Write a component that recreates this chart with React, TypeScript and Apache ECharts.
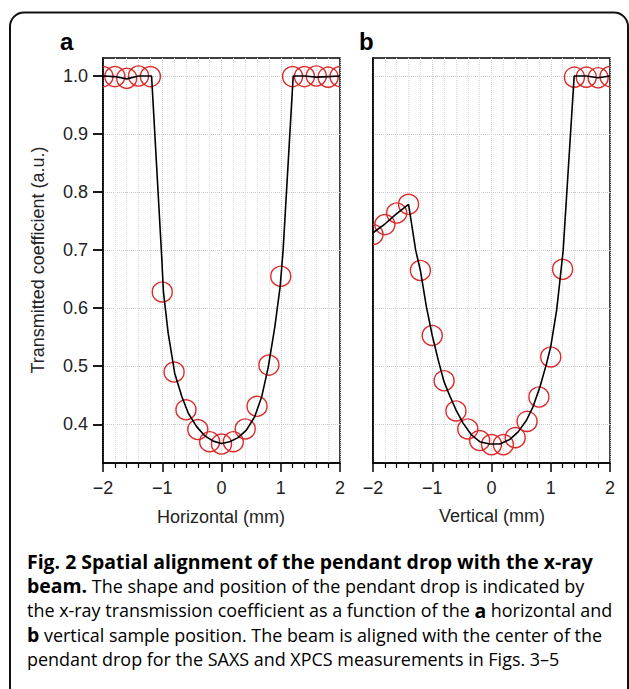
import React, { useEffect, useRef } from "react";
import * as echarts from "echarts";

// ---- data ----
const samplePos = [-2.0, -1.8, -1.6, -1.4, -1.2, -1.0, -0.8, -0.6, -0.4, -0.2, 0.0, 0.2, 0.4, 0.6, 0.8, 1.0, 1.2, 1.4, 1.6, 1.8, 2.0];
const horizontalT = [0.999, 0.999, 0.996, 1.0, 0.999, 0.628, 0.49, 0.425, 0.391, 0.37, 0.366, 0.37, 0.392, 0.431, 0.502, 0.655, 0.999, 0.999, 1.0, 0.998, 0.999];
const verticalT = [0.727, 0.744, 0.764, 0.779, 0.665, 0.553, 0.475, 0.423, 0.392, 0.372, 0.365, 0.365, 0.377, 0.405, 0.447, 0.516, 0.667, 0.998, 0.998, 0.997, 0.999];

const horizontalFitX = [-2.0, -1.8, -1.6, -1.4, -1.18, -1.01, -0.98, -0.9, -0.79, -0.67, -0.56, -0.42, -0.28, -0.14, 0.0, 0.14, 0.28, 0.42, 0.56, 0.68, 0.79, 0.9, 0.99, 1.04, 1.21, 1.4, 1.6, 1.8, 2.0];
const horizontalFitY = [1.0, 0.999, 0.995, 1.0, 1.0, 0.69, 0.628, 0.557, 0.488, 0.448, 0.419, 0.396, 0.38, 0.371, 0.367, 0.37, 0.377, 0.39, 0.413, 0.448, 0.499, 0.568, 0.637, 0.7, 1.0, 1.0, 0.998, 0.999, 1.0];

const verticalFitX = [-2.0, -1.8, -1.6, -1.4, -1.28, -1.2, -1.1, -1.0, -0.9, -0.8, -0.7, -0.6, -0.48, -0.34, -0.2, -0.03, 0.14, 0.31, 0.45, 0.59, 0.7, 0.82, 0.93, 1.0, 1.1, 1.15, 1.21, 1.395, 1.6, 1.8, 2.0];
const verticalFitY = [0.73, 0.745, 0.763, 0.779, 0.7, 0.665, 0.603, 0.553, 0.511, 0.473, 0.448, 0.425, 0.402, 0.382, 0.37, 0.366, 0.366, 0.374, 0.387, 0.407, 0.43, 0.465, 0.505, 0.534, 0.597, 0.643, 0.7, 1.0, 1.0, 0.997, 1.0];

const yTickValues = [0.4, 0.5, 0.6, 0.7, 0.8, 0.9, 1.0];
const yMin = 1 / 3;
const yMax = 1.031;
const xMin = -2;
const xMax = 2;

const panelLabels = ["a", "b"];
const xTitles = ["Horizontal (mm)", "Vertical (mm)"];
const yTitle = "Transmitted coefficient (a.u.)";

const captionLines = [
  "{h|Fig. 2 Spatial alignment of the pendant drop with the x-ray}",
  "{h|beam.}{n| The shape and position of the pendant drop is indicated by}",
  "{n|the x-ray transmission coefficient as a function of the }{h|a}{n| horizontal and}",
  "{h|b}{n| vertical sample position. The beam is aligned with the center of the}",
  "{n|pendant drop for the SAXS and XPCS measurements in Figs. }{l|3–5}",
];
const captionMeasureLine = "the x-ray transmission coefficient as a function of the a horizontal and";
const captionMeasureBold = "Fig. 2 Spatial alignment of the pendant drop with the x-ray";

const AXIS_FONT = "'Liberation Sans', Arial, Helvetica, sans-serif";
const CAP_FONT = "'Open Sans', 'Noto Sans', sans-serif";
const RED = "#dc2a2a";

function fmtX(v: number) {
  return v < 0 ? "\u2212" + Math.abs(v) : String(v);
}

export default function App() {
  const ref = useRef<HTMLDivElement>(null);

  useEffect(() => {
    if (!ref.current) return;
    const chart = echarts.init(ref.current, undefined, { renderer: "svg" });

    // fit caption font sizes to the measured widths of reference lines
    let capSize = 15.5;
    let boldSize = 16;
    try {
      const c = document.createElement("canvas").getContext("2d");
      if (c) {
        c.font = "100px " + CAP_FONT;
        const w = c.measureText(captionMeasureLine).width;
        if (w > 0) capSize = (100 * 584) / w;
        c.font = "bold 100px " + CAP_FONT;
        const wb = c.measureText(captionMeasureBold).width;
        if (wb > 0) boldSize = (100 * 566) / wb;
      }
    } catch (e) {}

    const grids = [
      { left: 103, top: 58, width: 237, height: 405 },
      { left: 373, top: 58, width: 237, height: 405 },
    ];

    const xAxisBase = (i: number) => ({
      gridIndex: i,
      type: "value",
      min: xMin,
      max: xMax,
      interval: 1,
      axisLine: { show: true, onZero: false, lineStyle: { color: "#000", width: 1.5 } },
      axisTick: { show: true, inside: false, length: 9, lineStyle: { color: "#000", width: 1.5 } },
      minorTick: { show: true, splitNumber: 5, length: 5, lineStyle: { color: "#000", width: 1.2 } },
      axisLabel: { show: true, margin: 16, fontSize: 18, color: "#222", fontFamily: AXIS_FONT, formatter: fmtX },
      splitLine: { show: true, lineStyle: { color: "#cfcfcf", type: "dotted", width: 1 } },
      minorSplitLine: { show: true, lineStyle: { color: "#dadada", type: "dotted", width: 1 } },
    });

    const yAxisBase = (i: number) => ({
      gridIndex: i,
      type: "value",
      min: yMin,
      max: yMax,
      axisLine: { show: true, onZero: false, lineStyle: { color: "#000", width: 1.5 } },
      axisTick: {
        show: i === 0,
        inside: false,
        length: 10,
        customValues: yTickValues,
        lineStyle: { color: "#000", width: 1.8 },
      },
      axisLabel: {
        show: i === 0,
        customValues: yTickValues,
        margin: 15,
        fontSize: 18,
        color: "#222",
        fontFamily: AXIS_FONT,
        formatter: (v: number) => v.toFixed(1),
      },
      splitLine: { show: true, lineStyle: { color: "#c8c8c8", type: "dotted", width: 1 } },
    });

    const circleSeries = (i: number, ys: number[]) => ({
      type: "custom",
      xAxisIndex: i,
      yAxisIndex: i,
      clip: true,
      z: 3,
      data: samplePos.map((x, k) => [x, ys[k]]),
      renderItem: (_p: any, api: any) => {
        const pt = api.coord([api.value(0), api.value(1)]);
        return {
          type: "circle",
          shape: { cx: pt[0], cy: pt[1], r: 10 },
          style: { fill: "none", stroke: RED, lineWidth: 1.4 },
        };
      },
    });

    const lineSeries = (i: number, xs: number[], ys: number[]) => ({
      type: "line",
      xAxisIndex: i,
      yAxisIndex: i,
      clip: true,
      z: 4,
      showSymbol: false,
      symbol: "none",
      smooth: false,
      data: xs.map((x, k) => [x, ys[k]]),
      lineStyle: { color: "#000", width: 1.6 },
      emphasis: { disabled: true },
    });

    const captionRich = {
      h: { fontFamily: CAP_FONT, fontSize: boldSize, fontWeight: "bold", color: "#111", lineHeight: 21 },
      n: { fontFamily: CAP_FONT, fontSize: capSize, fontWeight: "normal", color: "#3a3a3a", lineHeight: 21 },
      l: { fontFamily: CAP_FONT, fontSize: capSize, fontWeight: "normal", color: "#3558c8", lineHeight: 21 },
    };

    const graphic: any[] = [
      {
        type: "rect",
        shape: { x: 10, y: 12.5, width: 618, height: 690, r: 14 },
        style: { fill: "none", stroke: "#111", lineWidth: 2 },
        silent: true,
      },
      {
        type: "text",
        x: 60,
        y: 41,
        style: { text: panelLabels[0], font: "bold 24px " + AXIS_FONT, fill: "#000", verticalAlign: "middle" },
      },
      {
        type: "text",
        x: 359,
        y: 41,
        style: { text: panelLabels[1], font: "bold 24px " + AXIS_FONT, fill: "#000", verticalAlign: "middle" },
      },
      {
        type: "text",
        x: 221,
        y: 517,
        style: { text: xTitles[0], font: "18px " + AXIS_FONT, fill: "#222", align: "center", verticalAlign: "middle" },
      },
      {
        type: "text",
        x: 492,
        y: 516,
        style: { text: xTitles[1], font: "18px " + AXIS_FONT, fill: "#222", align: "center", verticalAlign: "middle" },
      },
      {
        type: "text",
        x: 38,
        y: 260,
        rotation: Math.PI / 2,
        style: { text: yTitle, font: "18px " + AXIS_FONT, fill: "#222", align: "center", verticalAlign: "middle" },
      },
    ];
    captionLines.forEach((t, k) => {
      graphic.push({
        type: "text",
        x: 27,
        y: 561.5 + k * 24.4,
        style: { text: t, rich: captionRich, align: "left", verticalAlign: "middle", lineHeight: 21 },
      });
    });

    chart.setOption({
      animation: false,
      backgroundColor: "#fff",
      grid: grids.map((g) => ({ ...g, show: true, borderColor: "#000", borderWidth: 1.5, backgroundColor: "transparent", containLabel: false })),
      xAxis: [xAxisBase(0), xAxisBase(1)],
      yAxis: [yAxisBase(0), yAxisBase(1)],
      series: [
        circleSeries(0, horizontalT),
        lineSeries(0, horizontalFitX, horizontalFitY),
        circleSeries(1, verticalT),
        lineSeries(1, verticalFitX, verticalFitY),
      ],
      graphic,
    } as any);

    return () => chart.dispose();
  }, []);

  return (
    <div
      ref={ref}
      style={{ position: "absolute", left: 0, top: 0, width: 629, height: 689, background: "#fff" }}
    />
  );
}
